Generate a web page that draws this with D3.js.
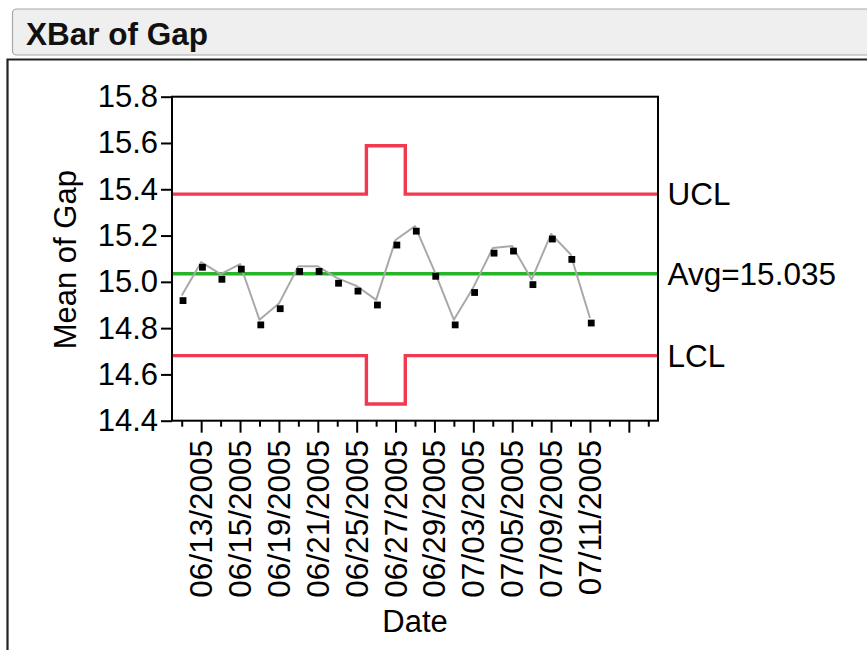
<!DOCTYPE html>
<html>
<head>
<meta charset="utf-8">
<script src="https://cdn.jsdelivr.net/npm/d3@7"></script>
<style>
  html, body { margin: 0; padding: 0; background: #ffffff; }
  svg { display: block; font-family: "Liberation Sans", Arial, sans-serif; }
</style>
</head>
<body>
<svg id="chart" width="867" height="650"></svg>
<script>
// Subgroup dates (one per plotted mean)
const dates = [
  "06/12/2005", "06/13/2005", "06/14/2005", "06/15/2005", "06/16/2005", "06/19/2005",
  "06/20/2005", "06/21/2005", "06/22/2005", "06/25/2005", "06/26/2005", "06/27/2005",
  "06/28/2005", "06/29/2005", "06/30/2005", "07/03/2005", "07/04/2005", "07/05/2005",
  "07/06/2005", "07/09/2005", "07/10/2005", "07/11/2005"
];

// Subgroup means of Gap
const means = [
  14.941, 15.085, 15.033, 15.077, 14.836, 14.906,
  15.067, 15.067, 15.016, 14.982, 14.922, 15.181,
  15.241, 15.046, 14.836, 14.976, 15.146, 15.155,
  15.010, 15.207, 15.119, 14.844
];

// Control limits per subgroup (smaller subgroups get wider limits)
const ucl = [
  15.379, 15.379, 15.379, 15.379, 15.379, 15.379,
  15.379, 15.379, 15.379, 15.379, 15.588, 15.588,
  15.379, 15.379, 15.379, 15.379, 15.379, 15.379,
  15.379, 15.379, 15.379, 15.379
];
const lcl = [
  14.681, 14.681, 14.681, 14.681, 14.681, 14.681,
  14.681, 14.681, 14.681, 14.681, 14.472, 14.472,
  14.681, 14.681, 14.681, 14.681, 14.681, 14.681,
  14.681, 14.681, 14.681, 14.681
];
const average = 15.035;

const yTicks = [14.4, 14.6, 14.8, 15.0, 15.2, 15.4, 15.6, 15.8];
const slotCount = 25;   // axis positions, a few left empty at the right end

const svg = d3.select("#chart");
const fontSize = 31;

// ---- report header ----
svg.append("rect")
  .attr("x", 12.5).attr("y", 9).attr("width", 880).attr("height", 46)
  .attr("rx", 4).attr("ry", 4)
  .attr("fill", "#efefef").attr("stroke", "#a8a8a8").attr("stroke-width", 1.2);
svg.append("text")
  .attr("x", 26).attr("y", 45)
  .attr("font-size", 31.5).attr("font-weight", "bold").attr("fill", "#111")
  .text("XBar of Gap");

// outline of the report panel
svg.append("path")
  .attr("d", "M7.5,660 V59.5 H880")
  .attr("fill", "none").attr("stroke", "#222").attr("stroke-width", 2.2);

// ---- plot area ----
const plot = { left: 172, right: 658, top: 96.7, bottom: 420.7 };

const x = d3.scaleLinear()
  .domain([-0.5, slotCount - 0.5])
  .range([plot.left, plot.right]);
const y = d3.scaleLinear()
  .domain([14.4, 15.8])
  .range([plot.bottom, plot.top]);

// y axis
const yAxis = svg.append("g")
  .attr("transform", `translate(${plot.left},0)`)
  .call(d3.axisLeft(y).tickValues(yTicks).tickFormat(d3.format(".1f")).tickSize(11).tickPadding(3));
yAxis.select(".domain").remove();
yAxis.selectAll(".tick line").attr("stroke", "#000").attr("stroke-width", 2);
yAxis.selectAll(".tick text")
  .attr("font-size", fontSize).attr("fill", "#000")
  .attr("font-family", "Liberation Sans, Arial, sans-serif");

// x axis: minor ticks on even slots, labelled major ticks on odd slots
const slots = d3.range(slotCount);
const minorAxis = svg.append("g")
  .attr("transform", `translate(0,${plot.bottom})`)
  .call(d3.axisBottom(x).tickValues(slots.filter(i => i % 2 === 0)).tickFormat("").tickSize(6));
minorAxis.select(".domain").remove();
minorAxis.selectAll(".tick line").attr("stroke", "#000").attr("stroke-width", 2);

const majorAxis = svg.append("g")
  .attr("transform", `translate(0,${plot.bottom})`)
  .call(d3.axisBottom(x).tickValues(slots.filter(i => i % 2 === 1)).tickFormat("").tickSize(12));
majorAxis.select(".domain").remove();
majorAxis.selectAll(".tick line").attr("stroke", "#000").attr("stroke-width", 2);

// rotated date labels
const labelled = slots.filter(i => i % 2 === 1 && i < dates.length);
svg.append("g").selectAll("text")
  .data(labelled)
  .join("text")
  .attr("transform", i => `translate(${x(i)},440) rotate(-90)`)
  .attr("text-anchor", "end")
  .attr("dy", "0.35em")
  .attr("font-size", 31.5).attr("fill", "#000")
  .text(i => dates[i]);

// axis titles
svg.append("text")
  .attr("transform", `translate(76,${(plot.top + plot.bottom) / 2 + 1}) rotate(-90)`)
  .attr("text-anchor", "middle")
  .attr("font-size", fontSize).attr("fill", "#000")
  .text("Mean of Gap");
svg.append("text")
  .attr("x", (plot.left + plot.right) / 2).attr("y", 632)
  .attr("text-anchor", "middle")
  .attr("font-size", fontSize).attr("fill", "#000")
  .text("Date");

// ---- control limits (stepped at subgroups with other sizes) ----
function stepPoints(values) {
  const pts = [];
  values.forEach((v, i) => {
    const x0 = i === 0 ? x.domain()[0] : i - 0.5;
    const x1 = i === values.length - 1 ? x.domain()[1] : i + 0.5;
    pts.push([x0, v], [x1, v]);
  });
  return pts;
}
const limitLine = d3.line().x(d => x(d[0])).y(d => y(d[1]));

svg.append("clipPath").attr("id", "plot-clip")
  .append("rect")
  .attr("x", plot.left).attr("y", plot.top)
  .attr("width", plot.right - plot.left).attr("height", plot.bottom - plot.top);

const layer = svg.append("g").attr("clip-path", "url(#plot-clip)");

[ucl, lcl].forEach(vals => {
  layer.append("path")
    .attr("d", limitLine(stepPoints(vals)))
    .attr("fill", "none")
    .attr("stroke", "#f2394f")
    .attr("stroke-width", 3.4)
    .attr("stroke-linejoin", "miter");
});

// centre line
layer.append("line")
  .attr("x1", plot.left).attr("x2", plot.right)
  .attr("y1", y(average)).attr("y2", y(average))
  .attr("stroke", "#27b427").attr("stroke-width", 3.6);

// ---- subgroup means ----
const meanLine = d3.line()
  .x((d, i) => x(i))
  .y(d => y(d));
layer.append("path")
  .attr("d", meanLine(means))
  .attr("fill", "none")
  .attr("stroke", "#a9a9a9")
  .attr("stroke-width", 2)
  .attr("stroke-linejoin", "round");

// square markers, drawn slightly below-right of the connecting line
const markerSize = 6.8;
layer.append("g")
  .attr("transform", "translate(1.3,5.1)")
  .selectAll("rect")
  .data(means)
  .join("rect")
  .attr("x", (d, i) => x(i) - markerSize / 2)
  .attr("y", d => y(d) - markerSize / 2)
  .attr("width", markerSize).attr("height", markerSize)
  .attr("fill", "#000");

// plot frame
svg.append("rect")
  .attr("x", plot.left).attr("y", plot.top)
  .attr("width", plot.right - plot.left).attr("height", plot.bottom - plot.top)
  .attr("fill", "none").attr("stroke", "#000").attr("stroke-width", 2);

// limit labels to the right of the frame
const limitLabels = [
  { text: "UCL", value: ucl[0] },
  { text: "Avg=" + average.toFixed(3), value: average },
  { text: "LCL", value: lcl[0] }
];
svg.append("g").selectAll("text")
  .data(limitLabels)
  .join("text")
  .attr("x", plot.right + 9.5)
  .attr("y", d => y(d.value))
  .attr("dy", "0.35em")
  .attr("font-size", 31.5).attr("fill", "#000")
  .text(d => d.text);
</script>
</body>
</html>
